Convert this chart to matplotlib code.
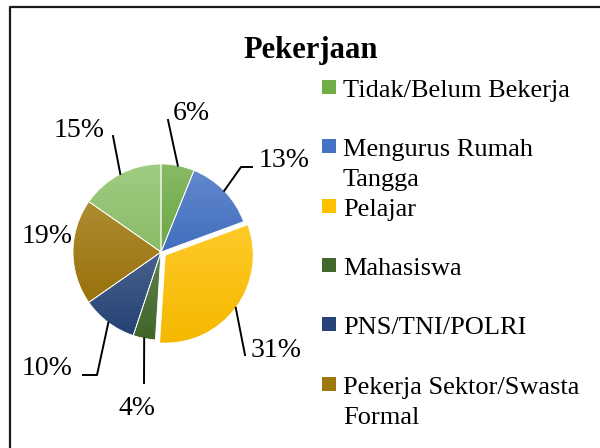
import matplotlib
matplotlib.use("Agg")
import matplotlib.pyplot as plt
import numpy as np
from matplotlib.colors import to_rgb
from matplotlib.patches import Rectangle

plt.rcParams['font.family'] = ['Liberation Serif', 'DejaVu Serif']

# data
kategori = ["Tidak/Belum Bekerja", "Mengurus Rumah\nTangga", "Pelajar", "Mahasiswa",
            "PNS/TNI/POLRI", "Pekerja Sektor/Swasta\nFormal", "Lainnya"]
persen = [6, 13, 31, 4, 10, 19, 15]
warna = ["#70AD47", "#4472C4", "#FFC000", "#43682B", "#264478", "#9E760A", "#8EC36B"]
pecah = [0, 0, 0.06, 0, 0, 0, 0]

W, H = 600, 448

# posisi label (piksel, y dari atas) dan titik garis penunjuk
posisi_label = [(191, 120), (284, 167), (276, 357), (137, 415), (47, 375), (47, 243), (79, 137)]
garis_label = [[(168, 120)], [(241, 167), (252, 167)], [(245, 355)], [(144, 383)],
               [(97, 375), (83, 375)], [], [(113, 136)]]


def terang(c, f):
    r = np.array(to_rgb(c))
    return r + (1 - r) * f


def gelap(c, f):
    return np.array(to_rgb(c)) * (1 - f)


fig = plt.figure(figsize=(W / 100, H / 100), dpi=100)
ax = fig.add_axes([0, 0, 1, 1])

cx, cy, R = 161, H - 252, 88
# explode di pie tidak diskalakan dengan radius, jadi kalikan R
wedges, _ = ax.pie(persen, colors=warna, explode=[e * R for e in pecah], startangle=90,
                   counterclock=False, center=(cx, cy), radius=R, frame=True,
                   wedgeprops=dict(edgecolor='white', linewidth=0.6))

# gradasi seperti Excel (atas lebih terang)
for w, c in zip(wedges, warna):
    ext = w.get_path().get_extents()
    n = 64
    t = np.linspace(0, 1, n)[:, None]
    grad = terang(c, 0.16) * (1 - t) + gelap(c, 0.04) * t
    img = ax.imshow(grad[:, None, :], extent=(ext.x0, ext.x1, ext.y0, ext.y1),
                    origin='upper', aspect='auto', zorder=1.5)
    img.set_clip_path(w)
    w.set_facecolor('none')
    w.set_zorder(2)

# label persen + garis penunjuk
for w, p, pos, g in zip(wedges, persen, posisi_label, garis_label):
    ax.text(pos[0], H - pos[1], f"{p}%", ha='center', va='baseline', fontsize=20)
    if g:
        th = np.deg2rad((w.theta1 + w.theta2) / 2)
        x0 = w.center[0] + w.r * np.cos(th)
        y0 = w.center[1] + w.r * np.sin(th)
        xs = [x0] + [q[0] for q in g]
        ys = [y0] + [H - q[1] for q in g]
        ax.plot(xs, ys, color='black', lw=1.4, zorder=3)

# judul
ax.text(311, H - 58, "Pekerjaan", ha='center', va='baseline', fontsize=22, fontweight='bold')

# legenda (terpotong, hanya 6 entri terlihat)
for i, (lab, c) in enumerate(zip(kategori[:6], warna[:6])):
    base = 97 + i * 59.3
    ax.add_patch(Rectangle((322, H - base + 3), 14, 14, facecolor=c, edgecolor='none'))
    for k, baris in enumerate(lab.split("\n")):
        ax.text(343, H - base - k * 30, baris, ha='left', va='baseline', fontsize=19)

# bingkai
ax.plot([10, 10, W + 5], [-5, H - 7, H - 7], color='#1a1a1a', lw=1.6, zorder=4)

ax.set_xlim(0, W)
ax.set_ylim(0, H)
ax.set_aspect('auto')
ax.axis('off')

fig.savefig("out.png", dpi=100)
